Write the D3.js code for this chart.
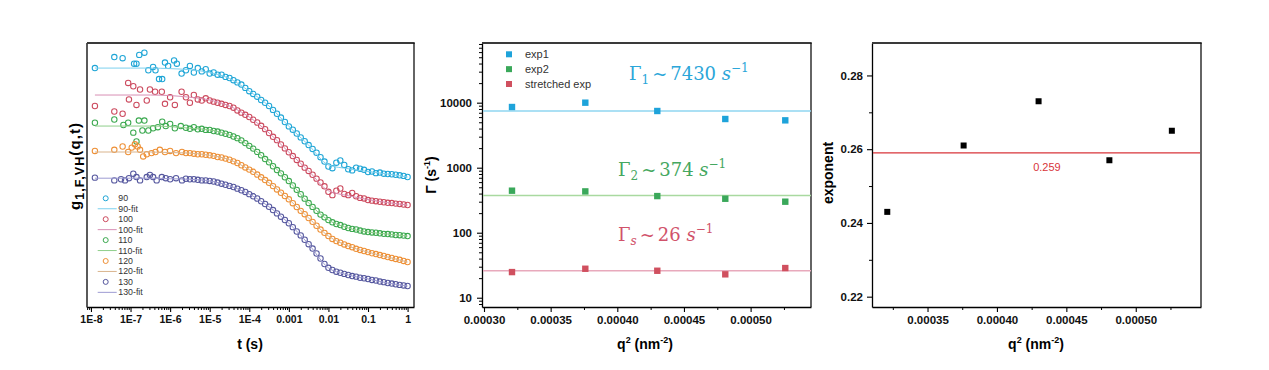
<!DOCTYPE html>
<html>
<head>
<meta charset="utf-8">
<script src="https://cdn.jsdelivr.net/npm/d3@7"></script>
<style>
body { margin: 0; background: #fff; }
svg { display: block; }
</style>
</head>
<body>
<svg id="chart" width="1269" height="370"></svg>
<script>
// ---------- panel 1 : g1 correlation curves ----------
let samples = ["90", "100", "110", "120", "130"];
let markerColors = ["#1ea5d6", "#cc4a5e", "#3aa84e", "#ee9036", "#55579e"];
let fitColors = ["#7dd0ee", "#d88fb4", "#8fce8a", "#d9b48d", "#9d9bd2"];
let offsets = [1.182, 0.927, 0.645, 0.409, 0.191];

// early (sparse, noisy) points as [log10 t, g1]
let early90 = [[-7.90,0.99],[-7.41,1.09],[-7.20,1.08],[-6.91,1.03],[-6.85,1.03],[-6.78,1.11],[-6.65,1.13],[-6.55,0.97],[-6.43,1.0],[-6.37,0.97],[-6.28,0.89],[-6.20,0.89],[-6.13,1.04],[-6.05,1.01],[-5.90,1.06],[-5.83,1.03],[-5.71,0.94]];
let early100 = [[-7.90,0.90],[-7.41,0.85],[-7.20,0.83],[-7.06,1.11],[-7.04,0.96],[-6.93,1.08],[-6.85,0.91],[-6.76,1.05],[-6.59,0.95],[-6.51,1.05],[-6.38,1.03],[-6.21,1.03],[-6.13,0.92],[-6.0,0.98],[-5.88,0.91],[-5.71,1.03]];
let early110 = [[-7.90,1.03],[-7.41,1.06],[-7.18,1.01],[-7.06,1.03],[-6.93,0.94],[-6.85,0.86],[-6.79,1.05],[-6.70,0.96],[-6.65,1.05],[-6.55,0.96],[-6.43,0.98],[-6.31,0.99],[-6.20,1.04],[-6.11,1.0],[-6.0,1.02],[-5.88,0.98],[-5.73,1.0]];
let early120 = [[-7.90,1.01],[-7.41,1.02],[-7.20,1.05],[-7.06,1.0],[-6.97,1.04],[-6.89,1.07],[-6.82,1.05],[-6.76,1.02],[-6.68,0.96],[-6.59,0.98],[-6.47,0.99],[-6.37,1.0],[-6.26,1.02],[-6.13,1.0],[-6.0,1.01],[-5.85,0.99],[-5.70,1.0]];
let early130 = [[-7.90,0.985],[-7.41,0.96],[-7.24,0.97],[-7.14,0.96],[-7.04,0.98],[-6.93,1.02],[-6.85,0.99],[-6.76,0.96],[-6.59,0.99],[-6.51,1.01],[-6.43,0.99],[-6.34,0.96],[-6.21,0.99],[-6.11,0.98],[-6.0,0.97],[-5.85,0.98],[-5.70,0.96]];

// dense part, log10 t
let lagExp = [-5.6,-5.5,-5.4,-5.3,-5.2,-5.1,-5.0,-4.9,-4.8,-4.7,-4.6,-4.5,-4.4,-4.3,-4.2,-4.1,-4.0,-3.9,-3.8,-3.7,-3.6,-3.5,-3.4,-3.3,-3.2,-3.1,-3.0,-2.9,-2.8,-2.7,-2.6,-2.5,-2.4,-2.3,-2.2,-2.1,-2.0,-1.9,-1.8,-1.7,-1.6,-1.5,-1.4,-1.3,-1.2,-1.1,-1.0,-0.9,-0.8,-0.7,-0.6,-0.5,-0.4,-0.3,-0.2,-0.1,0.0];
let g90 = [0.97,1.01,0.95,0.99,0.96,0.98,0.94, 0.95,0.93,0.93,0.91,0.90,0.88,0.86,0.84,0.81,0.78, 0.755,0.73,0.70,0.675,0.645,0.61,0.575,0.54,0.50,0.46, 0.43,0.395,0.36,0.325,0.29,0.255,0.22,0.18,0.14,0.095, 0.08,0.13,0.15,0.11,0.07,0.06,0.085,0.075,0.065,0.045, 0.05,0.035,0.04,0.03,0.027,0.025,0.02,0.015,0.01,0.0];
let g100 = [0.98,0.93,1.0,0.96,0.95,0.97,0.95, 0.94,0.93,0.92,0.91,0.90,0.885,0.86,0.84,0.82,0.80, 0.775,0.75,0.72,0.69,0.655,0.62,0.59,0.55,0.515,0.48, 0.445,0.41,0.375,0.34,0.31,0.275,0.24,0.205,0.17,0.12, 0.09,0.13,0.15,0.10,0.09,0.11,0.08,0.065,0.06,0.045, 0.04,0.035,0.03,0.025,0.02,0.018,0.013,0.01,0.005,0.0];
let g110 = [0.985,0.975,0.99,0.97,0.975,0.965,0.965, 0.955,0.95,0.94,0.93,0.92,0.905,0.89,0.87,0.845,0.82, 0.795,0.765,0.735,0.70,0.67,0.635,0.60,0.57,0.535,0.50, 0.46,0.42,0.38,0.34,0.30,0.265,0.23,0.195,0.17,0.145, 0.125,0.11,0.10,0.085,0.073,0.065,0.06,0.05,0.042,0.036, 0.033,0.03,0.025,0.02,0.018,0.015,0.01,0.008,0.004,0.0];
let g120 = [0.99,0.99,0.985,0.98,0.98,0.975,0.97, 0.965,0.955,0.95,0.94,0.93,0.915,0.90,0.88,0.86,0.84, 0.82,0.795,0.77,0.745,0.72,0.69,0.66,0.63,0.60,0.57, 0.535,0.50,0.465,0.435,0.40,0.365,0.33,0.295,0.265,0.236, 0.21,0.19,0.175,0.16,0.145,0.135,0.12,0.11,0.10,0.09, 0.08,0.072,0.063,0.055,0.045,0.037,0.028,0.02,0.01,0.0];
let g130 = [0.975,0.97,0.97,0.965,0.96,0.96,0.955, 0.95,0.94,0.93,0.92,0.91,0.90,0.885,0.87,0.855,0.835, 0.815,0.795,0.77,0.745,0.72,0.69,0.66,0.63,0.60,0.57, 0.535,0.495,0.46,0.42,0.38,0.34,0.295,0.25,0.20,0.165, 0.145,0.13,0.12,0.11,0.10,0.09,0.085,0.075,0.07,0.064, 0.055,0.05,0.04,0.035,0.027,0.022,0.016,0.01,0.005,0.0];

// fits
let fitExp = [-7.9,-7.0,-6.5,-6.0,-5.5,-5.0,-4.5,-4.0,-3.5,-3.0,-2.5,-2.0,-1.5,-1.0,-0.5,0.0];
let fit90 = [0.99,0.99,0.99,0.985,0.975,0.95,0.895,0.78,0.645,0.46,0.29,0.11,0.075,0.05,0.027,0.0];
let fit100 = [1.0,1.0,1.0,0.995,0.98,0.955,0.90,0.80,0.655,0.48,0.31,0.13,0.085,0.05,0.022,0.0];
let fit110 = [1.0,1.0,1.0,0.995,0.98,0.965,0.92,0.82,0.67,0.50,0.30,0.145,0.073,0.036,0.018,0.0];
let fit120 = [1.0,1.0,1.0,0.995,0.99,0.97,0.93,0.84,0.72,0.57,0.40,0.236,0.145,0.09,0.045,0.0];
let fit130 = [0.98,0.98,0.98,0.975,0.97,0.955,0.91,0.835,0.72,0.57,0.38,0.165,0.10,0.064,0.027,0.0];

let p1Majors = [1e-8,1e-7,1e-6,1e-5,1e-4,1e-3,1e-2,1e-1,1];
let p1Labels = ["1E-8","1E-7","1E-6","1E-5","1E-4","0.001","0.01","0.1","1"];

// ---------- panel 2 : rates ----------
let q2 = [0.000321, 0.000376, 0.00043, 0.000481, 0.000526];
let rate1 = [8580, 10000, 7450, 5610, 5350];
let rate2 = [443, 432, 366, 333, 300];
let rateS = [24.8, 27.9, 26.0, 22.9, 28.6];
let rateFits = [7430, 374, 26];
let rateNames = ["exp1", "exp2", "stretched exp"];
let rateColors = ["#1ea3da", "#3aa85a", "#d0505f"];
let rateLineColors = ["#8fd6f1", "#a9d9a0", "#e8a9bc"];
let qMajors = [0.0003, 0.00035, 0.0004, 0.00045, 0.0005];
let qMinors = [0.000325, 0.000375, 0.000425, 0.000475, 0.000525];
let rateMajors = [10, 100, 1000, 10000];

// ---------- panel 3 : exponent ----------
let exponent = [0.243, 0.261, 0.273, 0.257, 0.265];
let exponentMean = 0.259;
let expMajors = [0.22, 0.24, 0.26, 0.28];
let expMinors = [0.23, 0.25, 0.27];

let svg = d3.select("#chart");
const FONT = "'Liberation Sans', Arial, sans-serif";

function styleAxis(g, size) {
  g.attr("font-family", FONT).attr("font-size", size).attr("font-weight", "bold");
  g.select(".domain").attr("stroke", "#000").attr("stroke-width", 1.3);
  g.selectAll(".tick line").attr("stroke", "#000").attr("stroke-width", 1.1);
  g.selectAll(".tick text").attr("fill", "#111");
}
function minorAxis(g) {
  g.select(".domain").remove();
  g.selectAll(".tick line").attr("stroke", "#000").attr("stroke-width", 1);
}
function frame(x0, x1, y0, y1) {
  svg.append("line").attr("x1", x0).attr("x2", x1 + 0.7).attr("y1", y0).attr("y2", y0)
    .attr("stroke", "#3a3a3a").attr("stroke-width", 2);
  svg.append("line").attr("x1", x1).attr("x2", x1).attr("y1", y0).attr("y2", y1)
    .attr("stroke", "#111").attr("stroke-width", 1.3);
}

// ================= panel 1 =================
let x1 = d3.scaleLog().domain([Math.pow(10, -8.1), Math.pow(10, 0.162)]).range([87, 414]);
let y1 = d3.scaleLinear().domain([0, 2.4]).range([307, 43]);

let earlies = [early90, early100, early110, early120, early130];
let denses = [g90, g100, g110, g120, g130];
let fits = [fit90, fit100, fit110, fit120, fit130];

let series1 = samples.map((name, i) => ({
  name: name,
  color: markerColors[i],
  fitColor: fitColors[i],
  pts: earlies[i].concat(lagExp.map((L, j) => [L, denses[i][j]])).map(p => [p[0], p[1] + offsets[i]]),
  fit: fitExp.map((L, j) => [L, fits[i][j] + offsets[i]])
}));

let minor1 = x1.ticks().filter(t => Math.abs(Math.log10(t) - Math.round(Math.log10(t))) > 1e-6);
svg.append("g").attr("transform", "translate(0,307)")
  .call(d3.axisBottom(x1).tickValues(minor1).tickSize(3).tickFormat(""))
  .call(minorAxis);
svg.append("g").attr("transform", "translate(0,307)")
  .call(d3.axisBottom(x1).tickValues(p1Majors).tickFormat((d, i) => p1Labels[i]).tickSize(5).tickPadding(4).tickSizeOuter(0))
  .call(g => styleAxis(g, 10.5));
svg.append("line").attr("x1", 87).attr("x2", 87).attr("y1", 43).attr("y2", 307.6)
  .attr("stroke", "#000").attr("stroke-width", 1.3);
frame(87, 414, 43, 307);

let fitLine = d3.line().x(d => x1(Math.pow(10, d[0]))).y(d => y1(d[1])).curve(d3.curveMonotoneX);

series1.forEach(s => {
  svg.append("g").selectAll("circle")
    .data(s.pts)
    .enter()
    .append("circle")
    .attr("cx", d => x1(Math.pow(10, d[0])))
    .attr("cy", d => y1(d[1]))
    .attr("r", 2.7)
    .attr("fill", "none")
    .attr("stroke", s.color)
    .attr("stroke-width", 1.05);
});
series1.forEach(s => {
  svg.append("path").datum(s.fit)
    .attr("d", fitLine)
    .attr("fill", "none")
    .attr("stroke", s.fitColor)
    .attr("stroke-width", 1);
});

// legend 1
let leg1 = svg.append("g").attr("font-family", FONT).attr("font-size", 8.8).attr("fill", "#333");
series1.forEach((s, i) => {
  let yA = 198.3 + i * 2 * 10.45, yB = yA + 10.45;
  leg1.append("circle").attr("cx", 105.7).attr("cy", yA).attr("r", 2.5)
    .attr("fill", "none").attr("stroke", s.color).attr("stroke-width", 1);
  leg1.append("text").attr("x", 118.3).attr("y", yA + 3).text(s.name);
  leg1.append("line").attr("x1", 97.7).attr("x2", 116.7).attr("y1", yB).attr("y2", yB)
    .attr("stroke", s.fitColor).attr("stroke-width", 1);
  leg1.append("text").attr("x", 118.3).attr("y", yB + 3).text(s.name + "-fit");
});

// titles 1
svg.append("text").attr("x", 250).attr("y", 349).attr("text-anchor", "middle")
  .attr("font-family", FONT).attr("font-weight", "bold").attr("font-size", 14).text("t (s)");
let gl = svg.append("text").attr("transform", "translate(80,166) rotate(-90)")
  .attr("text-anchor", "middle").attr("font-family", FONT).attr("font-weight", "bold")
  .attr("font-size", 15).attr("letter-spacing", 1.1);
gl.append("tspan").text("g");
gl.append("tspan").attr("dy", 4).attr("font-size", 12.5).text("1,F,VH");
gl.append("tspan").attr("dy", -4).text("(q,t)");

// ================= panel 2 =================
let x2 = d3.scaleLinear().domain([0.0002985, 0.0005453]).range([482, 811]);
let y2 = d3.scaleLog().domain([7.2, 82800]).range([307, 43]);

let minor2y = y2.ticks().filter(t => rateMajors.indexOf(t) < 0);
svg.append("g").attr("transform", "translate(482,0)")
  .call(d3.axisLeft(y2).tickValues(minor2y).tickSize(3).tickFormat(""))
  .call(minorAxis);
svg.append("g").attr("transform", "translate(482,0)")
  .call(d3.axisLeft(y2).tickValues(rateMajors).tickFormat(d3.format("d")).tickSize(5).tickPadding(5).tickSizeOuter(0))
  .call(g => styleAxis(g, 11.5));
svg.append("g").attr("transform", "translate(0,307)")
  .call(d3.axisBottom(x2).tickValues(qMinors).tickSize(3).tickFormat(""))
  .call(minorAxis);
svg.append("g").attr("transform", "translate(0,307)")
  .call(d3.axisBottom(x2).tickValues(qMajors).tickFormat(d3.format(".5f")).tickSize(5).tickPadding(4).tickSizeOuter(0))
  .call(g => styleAxis(g, 11.5));
frame(482, 811, 43, 307);

rateFits.forEach((v, i) => {
  svg.append("line").attr("x1", x2.range()[0] + 1).attr("x2", x2.range()[1])
    .attr("y1", y2(v)).attr("y2", y2(v))
    .attr("stroke", rateLineColors[i]).attr("stroke-width", 1.4);
});
[rate1, rate2, rateS].forEach((arr, i) => {
  svg.append("g").selectAll("rect")
    .data(arr)
    .enter()
    .append("rect")
    .attr("x", (d, j) => x2(q2[j]) - 3.2)
    .attr("y", d => y2(d) - 3.2)
    .attr("width", 6.4).attr("height", 6.4)
    .attr("fill", rateColors[i]);
});

// legend 2
let leg2 = svg.append("g").attr("font-family", FONT).attr("font-size", 11).attr("fill", "#333");
rateNames.forEach((n, i) => {
  let yy = 54.3 + i * 14.85;
  leg2.append("rect").attr("x", 506).attr("y", yy - 3).attr("width", 6).attr("height", 6).attr("fill", rateColors[i]);
  leg2.append("text").attr("x", 525).attr("y", yy + 4).text(n);
});

// gamma annotations
function gammaLabel(x, y, sub, val, color) {
  let t = svg.append("text").attr("x", x).attr("y", y)
    .attr("font-family", "'DejaVu Serif', 'Liberation Serif', serif").attr("font-size", 18).attr("fill", color);
  t.append("tspan").text("Γ");
  t.append("tspan").attr("dy", 4).attr("font-size", 12).attr("font-style", sub === "s" ? "italic" : "normal").text(sub);
  t.append("tspan").attr("dy", -4).attr("dx", 3).text("~");
  t.append("tspan").attr("dx", 3).text(val + " ");
  t.append("tspan").attr("font-style", "italic").text("s");
  t.append("tspan").attr("dy", -8).attr("font-size", 12).text("−1");
}
gammaLabel(629, 80, "1", rateFits[0], "#2ba6d9");
gammaLabel(618, 176, "2", rateFits[1], "#45a760");
gammaLabel(618, 241, "s", rateFits[2], "#d1526a");

// titles 2
let qt2 = svg.append("text").attr("x", 645).attr("y", 349).attr("text-anchor", "middle")
  .attr("font-family", FONT).attr("font-weight", "bold").attr("font-size", 14);
function qTitle(t) {
  t.append("tspan").text("q");
  t.append("tspan").attr("dy", -6).attr("font-size", 9).text("2");
  t.append("tspan").attr("dy", 6).text(" (nm");
  t.append("tspan").attr("dy", -6).attr("font-size", 9).text("-2");
  t.append("tspan").attr("dy", 6).text(")");
}
qTitle(qt2);
let gt = svg.append("text").attr("transform", "translate(436,175) rotate(-90)")
  .attr("text-anchor", "middle").attr("font-family", FONT).attr("font-weight", "bold").attr("font-size", 14);
gt.append("tspan").text("Γ (s");
gt.append("tspan").attr("dy", -6).attr("font-size", 9).text("-1");
gt.append("tspan").attr("dy", 6).text(")");

// ================= panel 3 =================
let x3 = d3.scaleLinear().domain([0.00031, 0.000547]).range([872, 1201]);
let y3 = d3.scaleLinear().domain([0.2172, 0.2888]).range([307, 43]);

svg.append("g").attr("transform", "translate(872,0)")
  .call(d3.axisLeft(y3).tickValues(expMinors).tickSize(3).tickFormat(""))
  .call(minorAxis);
svg.append("g").attr("transform", "translate(872,0)")
  .call(d3.axisLeft(y3).tickValues(expMajors).tickFormat(d3.format(".2f")).tickSize(5).tickPadding(4).tickSizeOuter(0))
  .call(g => styleAxis(g, 11.5));
svg.append("g").attr("transform", "translate(0,307)")
  .call(d3.axisBottom(x3).tickValues(qMinors).tickSize(3).tickFormat(""))
  .call(minorAxis);
svg.append("g").attr("transform", "translate(0,307)")
  .call(d3.axisBottom(x3).tickValues(qMajors.filter(v => v >= 0.00031)).tickFormat(d3.format(".5f")).tickSize(5).tickPadding(4).tickSizeOuter(0))
  .call(g => styleAxis(g, 11.5));
frame(872, 1201, 43, 307);

svg.append("line").attr("x1", 873).attr("x2", 1200)
  .attr("y1", y3(exponentMean)).attr("y2", y3(exponentMean))
  .attr("stroke", "#d8353a").attr("stroke-width", 1.3);
svg.append("text").attr("x", x3(0.000436)).attr("y", y3(exponentMean) + 18)
  .attr("text-anchor", "middle").attr("font-family", FONT).attr("font-size", 11)
  .attr("fill", "#d8353a").text(exponentMean);
svg.append("g").selectAll("rect")
  .data(exponent)
  .enter()
  .append("rect")
  .attr("x", (d, j) => x3(q2[j]) - 3)
  .attr("y", d => y3(d) - 3)
  .attr("width", 6).attr("height", 6)
  .attr("fill", "#000");

let qt3 = svg.append("text").attr("x", 1036).attr("y", 349).attr("text-anchor", "middle")
  .attr("font-family", FONT).attr("font-weight", "bold").attr("font-size", 14);
qTitle(qt3);
svg.append("text").attr("transform", "translate(833,173) rotate(-90)")
  .attr("text-anchor", "middle").attr("font-family", FONT).attr("font-weight", "bold").attr("font-size", 14)
  .text("exponent");
</script>
</body>
</html>
